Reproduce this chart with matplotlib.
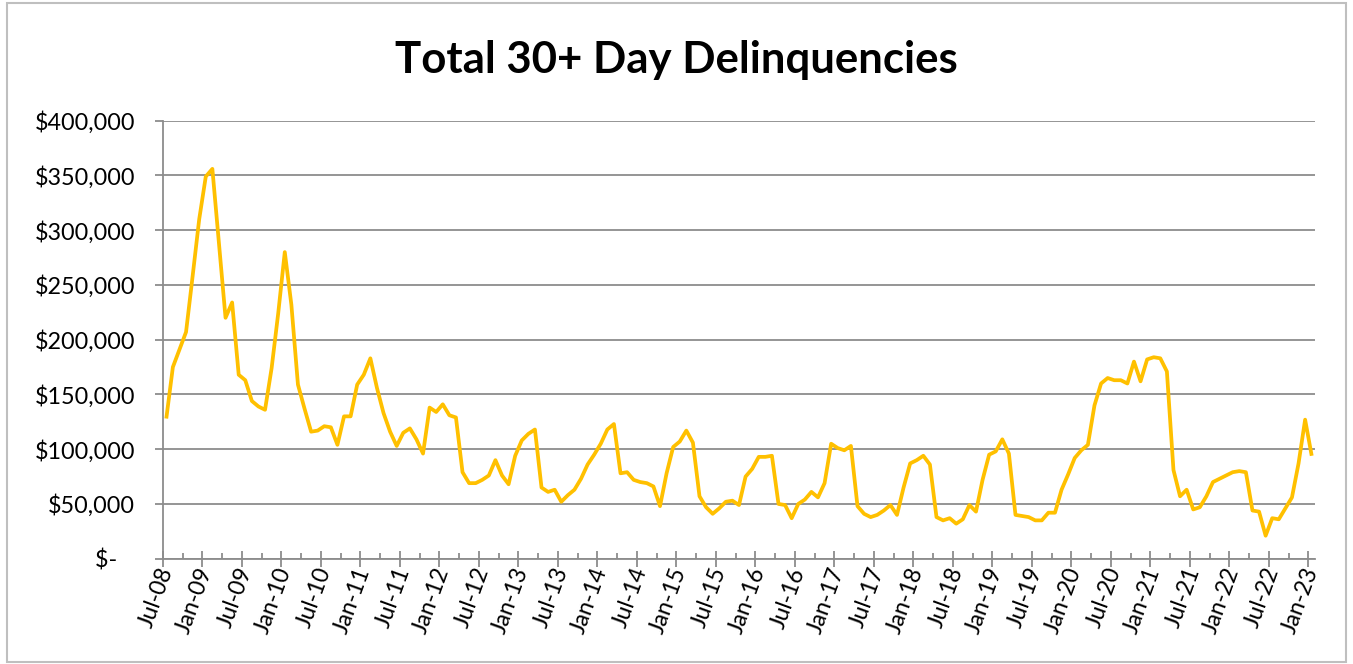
import matplotlib
matplotlib.use("Agg")
import matplotlib.pyplot as plt
from matplotlib.ticker import FixedLocator, FixedFormatter, MultipleLocator, FuncFormatter
from matplotlib.patches import Rectangle
from matplotlib.transforms import ScaledTranslation
import pandas as pd

# ---- data (monthly, Jul-2008 .. Jan-2023), values in dollars ----
months = pd.date_range("2008-07-01", periods=175, freq="MS")
delinquencies = [
    128000, 175000, 191000, 207000, 258000, 310000, 349000, 356000, 288000, 220000,
    234000, 168000, 163000, 144000, 139000, 136000, 174000, 224000, 280000, 232000,
    159000, 137000, 116000, 117000, 121000, 120000, 104000, 130000, 130000, 159000,
    168000, 183000, 156000, 133000, 116000, 103000, 115000, 119000, 109000, 96000,
    138000, 134000, 141000, 131000, 129000, 79000, 69000, 69000, 72000, 76000,
    90000, 76000, 68000, 94000, 108000, 114000, 118000, 65000, 61000, 63000,
    52000, 58000, 63000, 73000, 86000, 95000, 105000, 118000, 123000, 78000,
    79000, 72000, 70000, 69000, 66000, 48000, 78000, 102000, 107000, 117000,
    106000, 57000, 47000, 41000, 46000, 52000, 53000, 49000, 75000, 82000,
    93000, 93000, 94000, 50000, 49000, 37000, 50000, 54000, 61000, 56000,
    69000, 105000, 101000, 99000, 103000, 48000, 41000, 38000, 40000, 44000,
    49000, 40000, 65000, 87000, 90000, 94000, 86000, 38000, 35000, 37000,
    32000, 36000, 49000, 43000, 72000, 95000, 98000, 109000, 96000, 40000,
    39000, 38000, 35000, 35000, 42000, 42000, 63000, 77000, 92000, 99000,
    104000, 140000, 160000, 165000, 163000, 163000, 160000, 180000, 162000, 182000,
    184000, 183000, 171000, 81000, 57000, 63000, 45000, 47000, 57000, 70000,
    73000, 76000, 79000, 80000, 79000, 44000, 43000, 21000, 37000, 36000,
    46000, 56000, 87000, 127000, 94000,
]
tick_labels = [d.strftime("%b-%y") for d in months[::6]]
title = "Total 30+ Day Delinquencies"

# ---- figure ----
W, H = 1353, 664
fig = plt.figure(figsize=(W / 100, H / 100), dpi=100)
fig.patch.set_facecolor("white")

left, right, top, bottom = 163, 1315, 120.7, 558.7
ax = fig.add_axes([left / W, 1 - bottom / H, (right - left) / W, (bottom - top) / H])

x = list(range(len(delinquencies)))
ax.plot(x, delinquencies, color="#FFC000", lw=2.7, solid_joinstyle="round",
        solid_capstyle="butt", zorder=3)

grey = "#8c8c8c"
ax.set_xlim(-0.5, len(delinquencies) - 0.5)
ax.set_ylim(0, 400000)
ax.yaxis.set_major_locator(MultipleLocator(50000))
ax.yaxis.set_major_formatter(FuncFormatter(lambda v, p: "$-   " if v == 0 else f"${v:,.0f}"))
ax.grid(axis="y", color=grey, lw=1.3)
ax.set_axisbelow(True)

for s in ("top", "right"):
    ax.spines[s].set_visible(False)
for s in ("left", "bottom"):
    ax.spines[s].set_color(grey)
    ax.spines[s].set_linewidth(1.3)

major_pos = [k - 0.5 for k in range(0, len(delinquencies), 6)]
minor_pos = [k - 0.5 for k in range(3, len(delinquencies), 6)]
ax.xaxis.set_major_locator(FixedLocator(major_pos))
ax.xaxis.set_major_formatter(FixedFormatter(tick_labels))
ax.xaxis.set_minor_locator(FixedLocator(minor_pos))

ax.tick_params(axis="x", which="major", direction="inout", length=12, width=1.3,
               color=grey, labelsize=16.5, pad=1)
ax.tick_params(axis="x", which="minor", direction="in", length=4.5, width=1.3, color=grey)
ax.tick_params(axis="y", which="major", direction="out", length=6, width=1.3,
               color=grey, labelsize=16.8, pad=14)

shift = ScaledTranslation(4 / 100, 0, fig.dpi_scale_trans)
for lab in ax.get_xticklabels():
    lab.set_fontfamily("Lato")
    lab.set_rotation(70)
    lab.set_ha("right")
    lab.set_va("center")
    lab.set_rotation_mode("anchor")
    lab.set_transform(lab.get_transform() + shift)
for lab in ax.get_yticklabels():
    lab.set_fontfamily("Lato")

fig.text(0.5, 1 - 60 / H, title, ha="center", va="center", fontsize=31.5,
         fontweight="bold", family="Lato", color="black")

fig.add_artist(Rectangle((7 / W, 2 / H), (1346 - 7) / W, (661 - 2) / H,
                         transform=fig.transFigure, fill=False, ec="#bfbfbf", lw=1.5))

fig.savefig("out.png", dpi=100)
